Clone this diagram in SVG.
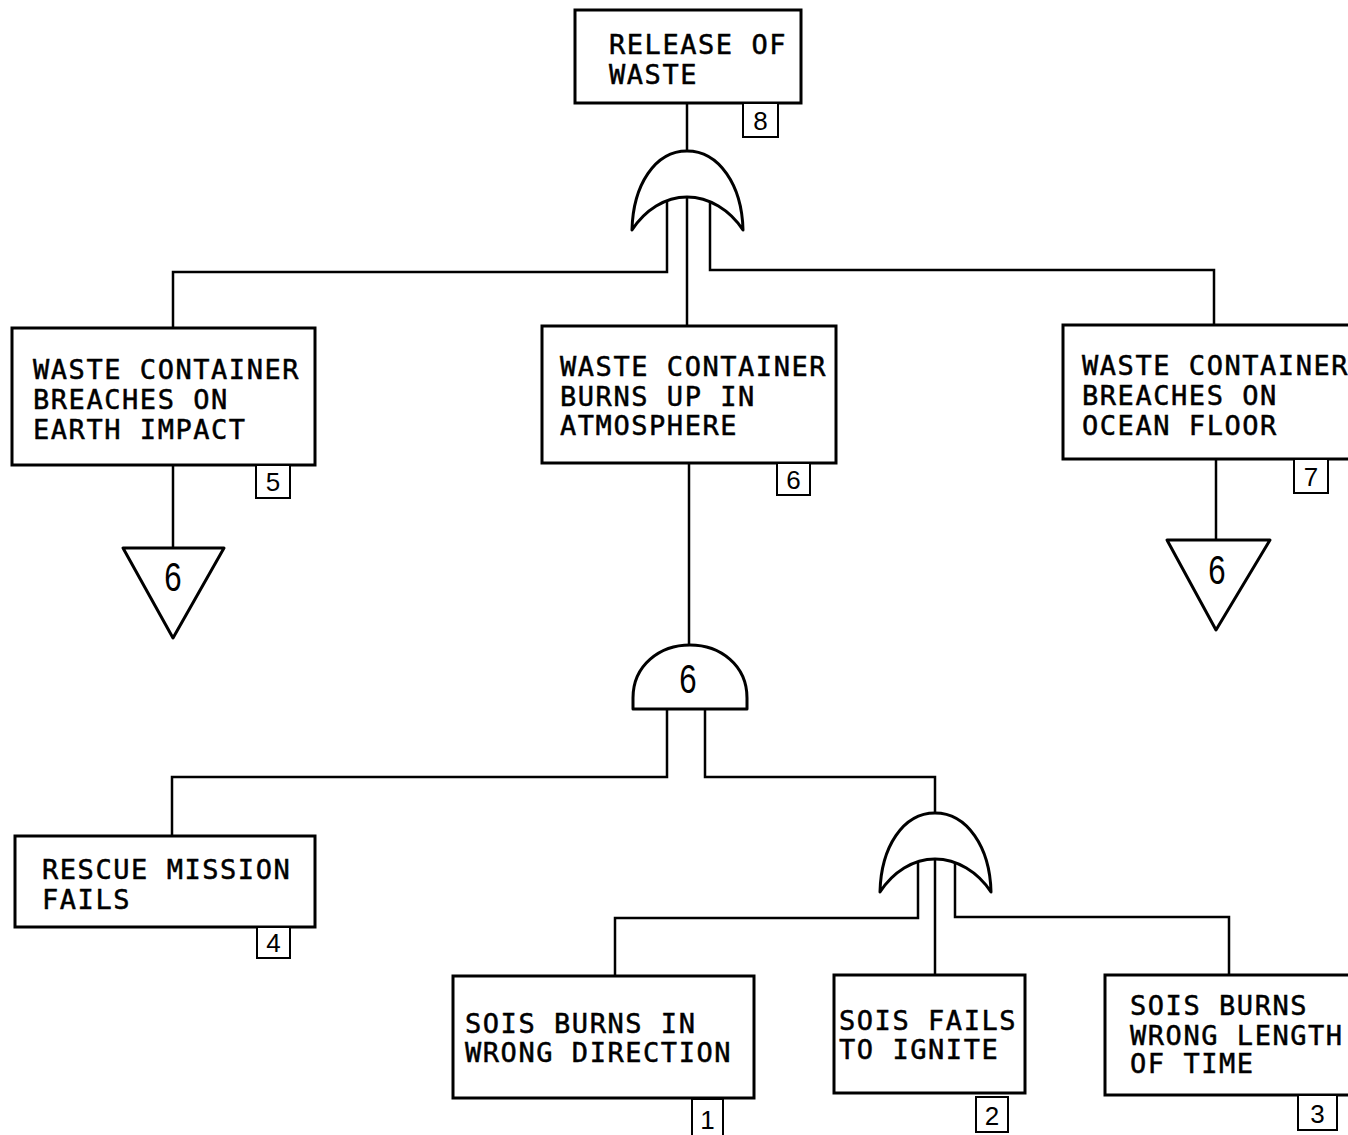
<svg xmlns="http://www.w3.org/2000/svg" width="1348" height="1135" viewBox="0 0 1348 1135">
  <style>
    .box { fill: #fff; stroke: #000; stroke-width: 3; }
    .tag { fill: #fff; stroke: #000; stroke-width: 2; }
    .wire { fill: none; stroke: #000; stroke-width: 2.5; stroke-linejoin: miter; }
    .gate { fill: #fff; stroke: #000; stroke-width: 3; stroke-linejoin: round; }
    .label { font-family: "DejaVu Sans Mono", "Liberation Mono", monospace; font-size: 27px; letter-spacing: 1.55px; fill: #000; stroke: #000; stroke-width: 0.5; }
    .num { font-family: "Liberation Sans", "DejaVu Sans", sans-serif; font-size: 26px; fill: #000; text-anchor: middle; }
    .big { font-family: "Liberation Sans", "DejaVu Sans", sans-serif; font-size: 40px; fill: #000; text-anchor: middle; }
  </style>
  <defs>
    <!-- OR gate outline, apex at (0,0) -->
    <path id="orgate" d="M-55,79 C-54,34 -32,0 0,0 C32,0 55,34 56,79 C43,59 22,46 0,46 C-22,46 -42,59 -55,79 Z"/>
  </defs>
  <rect width="1348" height="1135" fill="#fff"/>

  <!-- connectors -->
  <g id="connectors">
    <path class="wire" d="M687,102 V151"/>
    <path class="wire" d="M667,195 V272 H173 V328"/>
    <path class="wire" d="M687,190 V326"/>
    <path class="wire" d="M710,195 V270 H1214 V325"/>
    <path class="wire" d="M173,465 V548"/>
    <path class="wire" d="M1216,459 V540"/>
    <path class="wire" d="M689,463 V650"/>
    <path class="wire" d="M667,705 V777 H172 V836"/>
    <path class="wire" d="M705,705 V777 H935 V813"/>
    <path class="wire" d="M918,858 V918 H615 V976"/>
    <path class="wire" d="M935,852 V975"/>
    <path class="wire" d="M955,858 V917 H1229 V975"/>
  </g>

  <!-- top event -->
  <g id="release-of-waste">
    <rect class="box" x="575" y="10" width="226" height="93"/>
    <text class="label" x="609" y="54">RELEASE OF</text>
    <text class="label" x="609" y="84">WASTE</text>
    <rect class="tag" x="743" y="103" width="35" height="34"/>
    <text class="num" x="760.5" y="130">8</text>
  </g>

  <!-- OR gate under top event -->
  <g id="or-gate-top">
    <use href="#orgate" class="gate" transform="translate(687,151)"/>
  </g>

  <g id="breach-earth-impact">
    <rect class="box" x="12" y="328" width="303" height="137"/>
    <text class="label" x="33" y="379">WASTE CONTAINER</text>
    <text class="label" x="33" y="409">BREACHES ON</text>
    <text class="label" x="33" y="439">EARTH IMPACT</text>
    <rect class="tag" x="256" y="465" width="34" height="33"/>
    <text class="num" x="273" y="491">5</text>
  </g>

  <g id="burns-up-atmosphere">
    <rect class="box" x="542" y="326" width="294" height="137"/>
    <text class="label" x="560" y="376">WASTE CONTAINER</text>
    <text class="label" x="560" y="406">BURNS UP IN</text>
    <text class="label" x="560" y="435">ATMOSPHERE</text>
    <rect class="tag" x="777" y="463" width="33" height="32"/>
    <text class="num" x="793.5" y="489">6</text>
  </g>

  <g id="breach-ocean-floor">
    <rect class="box" x="1063" y="325" width="300" height="134"/>
    <text class="label" x="1082" y="375">WASTE CONTAINER</text>
    <text class="label" x="1082" y="405">BREACHES ON</text>
    <text class="label" x="1082" y="435">OCEAN FLOOR</text>
    <rect class="tag" x="1294" y="459" width="34" height="34"/>
    <text class="num" x="1311" y="486">7</text>
  </g>

  <!-- transfer triangles -->
  <g id="transfer-left">
    <path class="gate" d="M123,548 H224 L173,638 Z"/>
    <text class="big" transform="translate(173,591) scale(0.78,1)">6</text>
  </g>
  <g id="transfer-right">
    <path class="gate" d="M1167,540 H1270 L1216,630 Z"/>
    <text class="big" transform="translate(1217,584) scale(0.78,1)">6</text>
  </g>

  <!-- AND gate -->
  <g id="and-gate">
    <path class="gate" d="M633,709 V698 C633,665 660,645 690,645 C720,645 747,665 747,698 V709 Z"/>
    <text class="big" transform="translate(688,693) scale(0.78,1)">6</text>
  </g>

  <g id="rescue-mission-fails">
    <rect class="box" x="15" y="836" width="300" height="91"/>
    <text class="label" x="42" y="879">RESCUE MISSION</text>
    <text class="label" x="42" y="909">FAILS</text>
    <rect class="tag" x="257" y="927" width="33" height="31"/>
    <text class="num" x="273.5" y="952">4</text>
  </g>

  <!-- OR gate over SOIS events -->
  <g id="or-gate-sois">
    <use href="#orgate" class="gate" transform="translate(935,813)"/>
  </g>

  <g id="sois-wrong-direction">
    <rect class="box" x="453" y="976" width="301" height="122"/>
    <text class="label" x="465" y="1033">SOIS BURNS IN</text>
    <text class="label" x="465" y="1062">WRONG DIRECTION</text>
    <rect class="tag" x="692" y="1099" width="31" height="40"/>
    <text class="num" x="707.5" y="1129">1</text>
  </g>

  <g id="sois-fails-ignite">
    <rect class="box" x="834" y="975" width="191" height="118"/>
    <text class="label" x="839" y="1030">SOIS FAILS</text>
    <text class="label" x="839" y="1059">TO IGNITE</text>
    <rect class="tag" x="976" y="1097" width="32" height="35"/>
    <text class="num" x="992" y="1125">2</text>
  </g>

  <g id="sois-wrong-length">
    <rect class="box" x="1105" y="975" width="260" height="120"/>
    <text class="label" x="1130" y="1015">SOIS BURNS</text>
    <text class="label" x="1130" y="1045">WRONG LENGTH</text>
    <text class="label" x="1130" y="1073">OF TIME</text>
    <rect class="tag" x="1298" y="1095" width="39" height="35"/>
    <text class="num" x="1317.5" y="1123">3</text>
  </g>
</svg>
